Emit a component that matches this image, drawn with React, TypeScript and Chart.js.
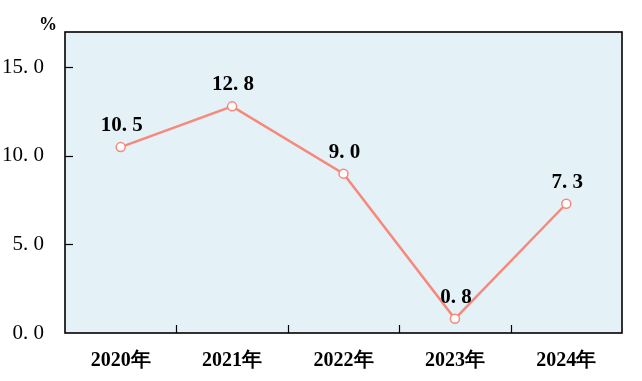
import React, { useEffect, useRef } from "react";
import { Chart, registerables } from "chart.js";

Chart.register(...registerables);

const categories = ["2020年", "2021年", "2022年", "2023年", "2024年"];
const values = [10.5, 12.8, 9.0, 0.8, 7.3];
const yTicks = [0, 5, 10, 15];
const yMax = 17;
const unitLabel = "%";

const fmt = (v: number) => v.toFixed(1).replace(".", ". ");
const FONT = "'Liberation Serif', 'Times New Roman', serif";

const framePlugin = {
  id: "frame",
  beforeDraw(chart: any) {
    const { ctx, chartArea: a } = chart;
    ctx.save();
    ctx.fillStyle = "#E4F1F6";
    ctx.fillRect(a.left, a.top, a.right - a.left, a.bottom - a.top);
    ctx.restore();
  },
  afterDatasetsDraw(chart: any) {
    const { ctx, chartArea: a, scales } = chart;
    ctx.save();
    ctx.strokeStyle = "#000";
    ctx.lineWidth = 1.6;
    ctx.strokeRect(a.left, a.top, a.right - a.left, a.bottom - a.top);
    ctx.lineWidth = 1.2;
    const ys = scales.y;
    yTicks.forEach((t) => {
      if (t === 0) return;
      const py = Math.round(ys.getPixelForValue(t)) + 0.5;
      ctx.beginPath();
      ctx.moveTo(a.left, py);
      ctx.lineTo(a.left + 8, py);
      ctx.stroke();
    });
    const xs = scales.x;
    for (let i = 1; i < categories.length; i++) {
      const px = Math.round((xs.getPixelForValue(i - 1) + xs.getPixelForValue(i)) / 2) + 0.5;
      ctx.beginPath();
      ctx.moveTo(px, a.bottom);
      ctx.lineTo(px, a.bottom - 8);
      ctx.stroke();
    }
    ctx.fillStyle = "#000";
    ctx.font = `bold 18px ${FONT}`;
    ctx.textAlign = "center";
    ctx.textBaseline = "middle";
    ctx.fillText(unitLabel, 48, a.top - 7);
    const meta = chart.getDatasetMeta(0);
    ctx.font = `bold 21px ${FONT}`;
    ctx.textBaseline = "alphabetic";
    meta.data.forEach((pt: any, i: number) => {
      ctx.fillText(fmt(values[i]), pt.x + 1, pt.y - 16);
    });
    ctx.restore();
  },
};

export default function App() {
  const ref = useRef<HTMLCanvasElement | null>(null);
  useEffect(() => {
    document.body.style.margin = "0";
    const chart = new Chart(ref.current!, {
      type: "line",
      data: {
        labels: categories,
        datasets: [
          {
            data: values,
            borderColor: "#F7887C",
            borderWidth: 2.5,
            pointBackgroundColor: "#ffffff",
            pointBorderColor: "#F7887C",
            pointBorderWidth: 1.5,
            pointRadius: 4.5,
            tension: 0,
          },
        ],
      },
      options: {
        responsive: false,
        animation: false,
        layout: { padding: { top: 32, right: 20, left: 0, bottom: 0 } },
        plugins: { legend: { display: false }, tooltip: { enabled: false } },
        scales: {
          x: {
            offset: true,
            grid: { display: false },
            border: { display: false },
            ticks: {
              color: "#000",
              padding: 8,
              font: { family: FONT, size: 20, weight: "bold" },
            },
            afterFit(s: any) {
              s.height = 48;
            },
          },
          y: {
            min: 0,
            max: yMax,
            grid: { display: false },
            border: { display: false },
            afterBuildTicks(s: any) {
              s.ticks = yTicks.map((v) => ({ value: v }));
            },
            ticks: {
              color: "#000",
              padding: 13,
              font: { family: FONT, size: 21 },
              callback: (v: any) => fmt(Number(v)),
            },
            afterFit(s: any) {
              s.width = 65;
            },
          },
        },
      },
      plugins: [framePlugin],
    });
    return () => chart.destroy();
  }, []);
  return <canvas ref={ref} width={642} height={381} style={{ display: "block" }} />;
}
